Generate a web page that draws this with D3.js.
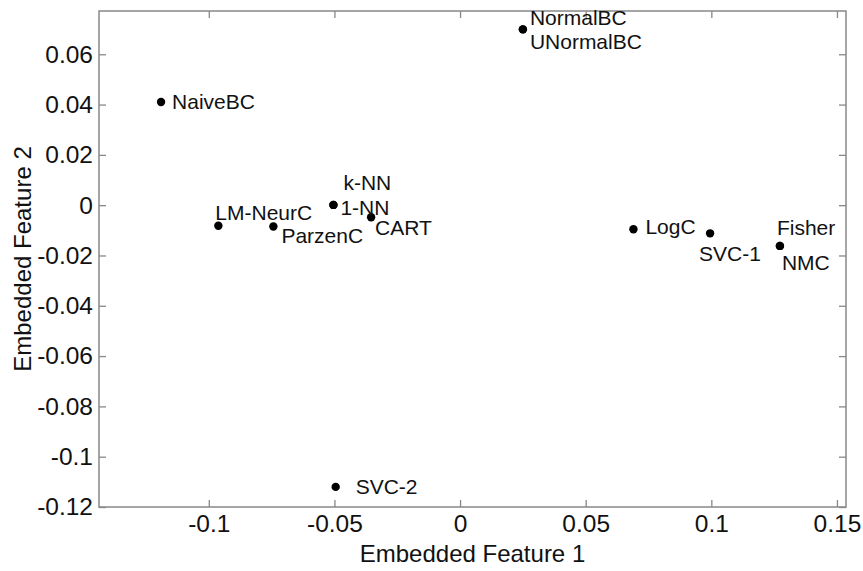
<!DOCTYPE html>
<html>
<head>
<meta charset="utf-8">
<script src="https://cdn.jsdelivr.net/npm/d3@7"></script>
<style>
  body { margin: 0; background: #fff; }
  svg text { font-family: "Liberation Sans", Arial, Helvetica, sans-serif; fill: #111; }
</style>
</head>
<body>
<svg></svg>
<script>
// one entry per text label; some classifiers sit on the same point
let names = ['NormalBC', 'UNormalBC', 'NaiveBC', 'k-NN', '1-NN', 'CART', 'LM-NeurC',
             'ParzenC', 'LogC', 'SVC-1', 'Fisher', 'NMC', 'SVC-2']
let feature1 = [0.025, 0.025, -0.119, -0.0504, -0.0504, -0.0354, -0.0962,
                -0.0743, 0.069, 0.0995, 0.1273, 0.1273, -0.0495]
let feature2 = [0.0699, 0.0699, 0.041, 0.0001, 0.0001, -0.0048, -0.0082,
                -0.0085, -0.0096, -0.0112, -0.0162, -0.0162, -0.112]
let xTicks = [-0.1, -0.05, 0, 0.05, 0.1, 0.15]
let yTicks = [0.06, 0.04, 0.02, 0, -0.02, -0.04, -0.06, -0.08, -0.1, -0.12]

// where each label text sits relative to its dot (layout only)
let labelOffsets = [[7, -4], [7, 20], [11, 7], [10, -15], [7, 10], [4, 18], [-3, -6],
                    [8, 16], [12, 5], [-11, 28], [-3, -11], [2, 24], [20, 7]]

let width = 863
let height = 571
let padLeft = 99, padRight = 846, padTop = 11, padBottom = 507

let svg = d3.select('svg')
svg.attr('width', width).attr('height', height)

let xScale = d3.scaleLinear()
               .domain([-0.1437, 0.1536])
               .range([padLeft, padRight])
let yScale = d3.scaleLinear()
               .domain([-0.12, 0.0772])
               .range([padBottom, padTop])

let fmt = d => String(+d.toFixed(3))

let styleAxis = g => {
    g.select('.domain').remove()
    g.selectAll('.tick line').attr('stroke', '#888').attr('stroke-width', 1.3)
    g.selectAll('.tick text').attr('font-size', 24.5).attr('fill', '#1a1a1a')
       .attr('font-family', '"Liberation Sans", Arial, sans-serif')
}

svg.append('g')
   .attr('transform', 'translate(0,' + padBottom + ')')
   .call(d3.axisBottom(xScale).tickValues(xTicks).tickFormat(fmt).tickSizeInner(-7).tickSizeOuter(0).tickPadding(8))
   .call(styleAxis)

svg.append('g')
   .attr('transform', 'translate(0,' + padTop + ')')
   .call(d3.axisTop(xScale).tickValues(xTicks).tickFormat('').tickSizeInner(-7).tickSizeOuter(0))
   .call(styleAxis)

svg.append('g')
   .attr('transform', 'translate(' + padLeft + ',0)')
   .call(d3.axisLeft(yScale).tickValues(yTicks).tickFormat(fmt).tickSizeInner(-7).tickSizeOuter(0).tickPadding(6))
   .call(styleAxis)

svg.append('g')
   .attr('transform', 'translate(' + padRight + ',0)')
   .call(d3.axisRight(yScale).tickValues(yTicks).tickFormat('').tickSizeInner(-7).tickSizeOuter(0))
   .call(styleAxis)

svg.append('rect')
   .attr('x', padLeft).attr('y', padTop)
   .attr('width', padRight - padLeft).attr('height', padBottom - padTop)
   .attr('fill', 'none').attr('stroke', '#888').attr('stroke-width', 1.5)

svg.append('text')
   .attr('x', (padLeft + padRight) / 2).attr('y', 562)
   .attr('text-anchor', 'middle').attr('font-size', 24)
   .text('Embedded Feature 1')

svg.append('text')
   .attr('transform', 'translate(31,' + (padTop + padBottom) / 2 + ') rotate(-90)')
   .attr('text-anchor', 'middle').attr('font-size', 24)
   .text('Embedded Feature 2')

let pts = names.map((n, i) => ({name: n, x: feature1[i], y: feature2[i], off: labelOffsets[i]}))

svg.selectAll('circle')
   .data(pts)
   .enter()
   .append('circle')
   .attr('cx', d => xScale(d.x))
   .attr('cy', d => yScale(d.y))
   .attr('r', 4.2)
   .attr('fill', '#000')

svg.selectAll('.lbl')
   .data(pts)
   .enter()
   .append('text')
   .attr('class', 'lbl')
   .attr('x', d => xScale(d.x) + d.off[0])
   .attr('y', d => yScale(d.y) + d.off[1])
   .attr('font-size', 21)
   .text(d => d.name)
</script>
</body>
</html>
